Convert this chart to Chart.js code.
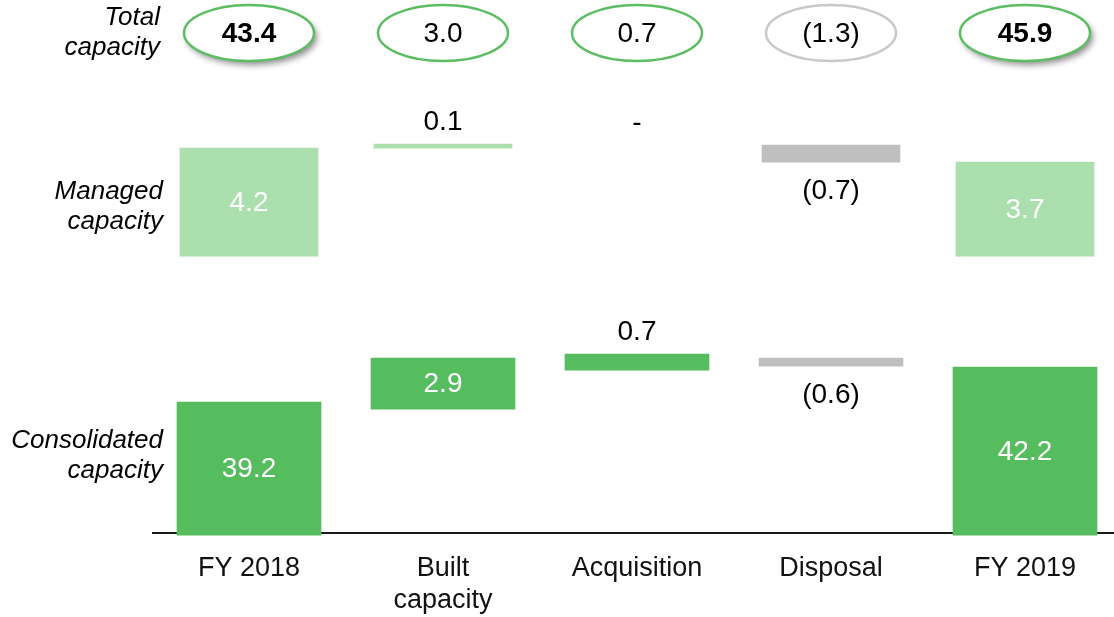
<!DOCTYPE html>
<html><head><meta charset="utf-8">
<script src="https://cdn.jsdelivr.net/npm/chart.js@4.4.0/dist/chart.umd.min.js"></script>
<style>
html,body{margin:0;padding:0;background:#fff;overflow:hidden;width:1114px;height:617px;}
#wrap{position:relative;width:1122px;height:633px;}
</style></head><body>
<div id="wrap"><canvas id="c"></canvas></div>
<script>
// ---- data ----
const categories = [['FY 2018'], ['Built', 'capacity'], ['Acquisition'], ['Disposal'], ['FY 2019']];
const totalCapacity = [43.4, 3.0, 0.7, -1.3, 45.9];
const managedCapacity = [4.2, 0.1, 0, -0.7, 3.7];
const consolidatedCapacity = [39.2, 2.9, 0.7, -0.6, 42.2];
// drawn extent of each bar on the (not-to-scale) layout axis
const managedSpans = [[277, 385], [385, 389], [388, 388], [371, 388], [277, 371]];
const consolidatedSpans = [[-2, 131], [124, 175], [163, 179], [167, 175], [-2, 166]];

const FONT = '"Liberation Sans", Arial, sans-serif';
const GREEN = '#55bd5e', LIGHT = '#abdfad', GREY = '#bfbfbf', NONE = 'rgba(0,0,0,0)';

function fmt(v) {
  if (v === 0) return '-';
  if (v < 0) return '(' + Math.abs(v).toFixed(1) + ')';
  return v.toFixed(1);
}

const overlay = {
  id: 'overlay',
  afterDatasetsDraw(chart, args, opts) {
    const ctx = chart.ctx;
    ctx.save();
    ctx.font = '28px ' + FONT;
    ctx.textAlign = 'center';
    ctx.textBaseline = 'middle';
    chart.data.datasets.forEach((ds, di) => {
      const meta = chart.getDatasetMeta(di);
      meta.data.forEach((el, i) => {
        const p = el.getProps(['x', 'y', 'base'], true);
        const top = Math.min(p.y, p.base), bot = Math.max(p.y, p.base);
        const place = ds.labelPlace[i];
        const txt = fmt(ds.values[i]);
        let y;
        if (place === 'in') { ctx.fillStyle = '#ffffff'; y = (top + bot) / 2 + 1; }
        else if (place === 'above') { ctx.fillStyle = '#000000'; y = top - 22; }
        else { ctx.fillStyle = '#000000'; y = bot + 29; }
        ctx.fillText(txt, p.x, y);
      });
    });
    ctx.restore();
  },
  afterDraw(chart, args, opts) {
    const ctx = chart.ctx;
    const xs = chart.scales.x;
    ctx.save();
    // total capacity ellipses
    totalCapacity.forEach((v, i) => {
      const x = xs.getPixelForValue(i);
      const y = opts.ellipseY;
      const em = opts.emphasize.includes(i);
      ctx.save();
      ctx.beginPath();
      ctx.ellipse(x, y, 65, 28, 0, 0, Math.PI * 2);
      if (em) {
        ctx.shadowColor = 'rgba(0,0,0,0.45)';
        ctx.shadowBlur = 6;
        ctx.shadowOffsetX = 3;
        ctx.shadowOffsetY = 4;
      }
      ctx.fillStyle = '#ffffff';
      ctx.fill();
      ctx.restore();
      ctx.beginPath();
      ctx.ellipse(x, y, 65, 28, 0, 0, Math.PI * 2);
      ctx.lineWidth = 2.5;
      ctx.strokeStyle = v < 0 ? '#c9c9c9' : '#5cbd62';
      ctx.stroke();
      ctx.fillStyle = '#000';
      ctx.textAlign = 'center';
      ctx.textBaseline = 'middle';
      ctx.font = (em ? 'bold ' : '') + '28px ' + FONT;
      ctx.fillText(fmt(v), x, y + 1);
    });
    // row titles
    ctx.font = 'italic 26px ' + FONT;
    ctx.fillStyle = '#000';
    ctx.textAlign = 'right';
    ctx.textBaseline = 'middle';
    opts.rowTitles.forEach(r => {
      r.lines.forEach((t, k) => ctx.fillText(t, r.x, r.y + k * 29.5));
    });
    ctx.restore();
  }
};

new Chart(document.getElementById('c'), {
  type: 'bar',
  data: {
    labels: categories,
    datasets: [
      {
        label: 'Managed capacity',
        data: managedSpans,
        values: managedCapacity,
        labelPlace: ['in', 'above', 'above', 'below', 'in'],
        backgroundColor: [LIGHT, LIGHT, NONE, GREY, LIGHT],
        borderWidth: 0,
        barThickness: 138,
        grouped: false
      },
      {
        label: 'Consolidated capacity',
        data: consolidatedSpans,
        values: consolidatedCapacity,
        labelPlace: ['in', 'in', 'above', 'below', 'in'],
        backgroundColor: [GREEN, GREEN, GREEN, GREY, GREEN],
        borderWidth: 0,
        barThickness: 144,
        grouped: false
      }
    ]
  },
  options: {
    responsive: true,
    maintainAspectRatio: false,
    animation: false,
    events: [],
    layout: { padding: { left: 152, right: 0, top: 0, bottom: 0 } },
    plugins: {
      legend: { display: false },
      tooltip: { enabled: false },
      overlay: {
        ellipseY: 33,
        emphasize: [0, 4],
        rowTitles: [
          { lines: ['Total', 'capacity'], x: 160, y: 18 },
          { lines: ['Managed', 'capacity'], x: 163, y: 192 },
          { lines: ['Consolidated', 'capacity'], x: 163, y: 441 }
        ]
      }
    },
    scales: {
      x: {
        offset: true,
        grid: { display: false, drawTicks: false },
        border: { display: false },
        ticks: {
          color: '#111',
          font: { family: FONT, size: 27, lineHeight: 1.2 },
          padding: 16,
          maxRotation: 0,
          autoSkip: false
        }
      },
      y: {
        min: -3,
        max: 533,
        z: 1,
        afterBuildTicks: s => { s.ticks = [{ value: 0 }]; },
        ticks: { display: false },
        grid: { color: '#1a1a1a', lineWidth: 2, drawTicks: false },
        border: { display: false }
      }
    }
  },
  plugins: [overlay]
});
</script>
</body></html>
